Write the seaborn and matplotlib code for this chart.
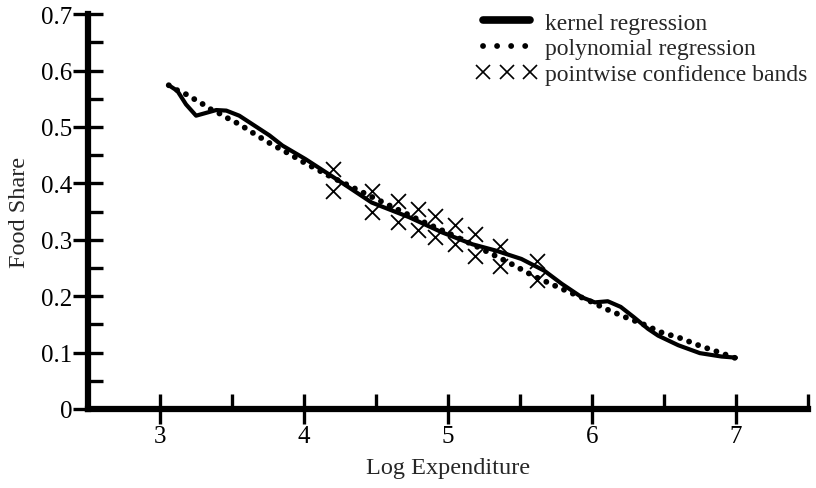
import numpy as np
import pandas as pd
import matplotlib
matplotlib.use("Agg")
import matplotlib.pyplot as plt
from matplotlib.lines import Line2D
from matplotlib.ticker import MultipleLocator
import seaborn as sns

# Kernel regression estimate of food share on log expenditure
kernel_x = [3.06, 3.12, 3.18, 3.25, 3.32, 3.39, 3.46, 3.55, 3.64, 3.76, 3.85,
            4.01, 4.24, 4.47, 4.73, 4.96, 5.17, 5.33, 5.51, 5.67, 5.79, 5.93,
            6.02, 6.11, 6.20, 6.29, 6.39, 6.46, 6.60, 6.75, 6.90, 7.00]
kernel_y = [0.574, 0.564, 0.540, 0.520, 0.525, 0.530, 0.529, 0.520, 0.505, 0.485, 0.467,
            0.443, 0.405, 0.366, 0.340, 0.313, 0.292, 0.281, 0.266, 0.245, 0.222, 0.198,
            0.189, 0.191, 0.181, 0.163, 0.142, 0.130, 0.113, 0.099, 0.093, 0.091]

# Polynomial regression fit
poly_x = [3.06, 3.12, 3.18, 3.24, 3.30, 3.36, 3.42, 3.48, 3.55, 3.66, 3.77, 3.90,
          4.00, 4.20, 4.40, 4.60, 4.80, 5.00, 5.20, 5.42, 5.60, 5.80, 5.98, 6.10,
          6.23, 6.35, 6.48, 6.61, 6.75, 6.90, 7.00]
poly_y = [0.574, 0.565, 0.558, 0.549, 0.540, 0.530, 0.523, 0.514, 0.505, 0.487, 0.470, 0.452,
          0.437, 0.410, 0.385, 0.360, 0.335, 0.312, 0.288, 0.260, 0.235, 0.212, 0.192, 0.177,
          0.163, 0.151, 0.136, 0.126, 0.112, 0.099, 0.090]

# Pointwise confidence bands (upper and lower limits)
band_x = [4.20, 4.47, 4.65, 4.79, 4.91, 5.05, 5.19, 5.36, 5.62]
band_upper = [0.425, 0.387, 0.369, 0.354, 0.342, 0.326, 0.310, 0.289, 0.263]
band_lower = [0.387, 0.349, 0.331, 0.318, 0.305, 0.292, 0.272, 0.254, 0.228]

legend_labels = ["kernel regression", "polynomial regression", "pointwise confidence bands"]

kernel_df = pd.DataFrame({"x": kernel_x, "y": kernel_y})
poly_df = pd.DataFrame({"x": poly_x, "y": poly_y})
band_df = pd.DataFrame({"x": band_x + band_x, "y": band_upper + band_lower})

sns.set_theme(style="ticks")
plt.rcParams["font.family"] = ["Liberation Serif", "DejaVu Serif"]

fig = plt.figure(figsize=(8.16, 4.89), dpi=100)
ax = fig.add_axes([0.108, 0.1616, 0.882, 0.8074])

sns.lineplot(data=kernel_df, x="x", y="y", ax=ax, color="black", lw=3.0,
             sort=False, estimator=None, solid_capstyle="round")
sns.lineplot(data=poly_df, x="x", y="y", ax=ax, color="black", lw=4.2,
             sort=False, estimator=None, linestyle=(0, (0.01, 1.65)),
             dash_capstyle="round")
sns.scatterplot(data=band_df, x="x", y="y", ax=ax, marker="x", color="black",
                s=115, linewidth=1.3)

ax.set_xlim(2.5, 7.5)
ax.set_ylim(0, 0.7)
ax.xaxis.set_minor_locator(MultipleLocator(0.5))
ax.yaxis.set_minor_locator(MultipleLocator(0.05))
ax.set_xticks([3, 4, 5, 6, 7])
ax.set_xticklabels(["3", "4", "5", "6", "7"])
ax.set_yticks([0, 0.1, 0.2, 0.3, 0.4, 0.5, 0.6, 0.7])
ax.set_yticklabels(["0", "0.1", "0.2", "0.3", "0.4", "0.5", "0.6", "0.7"])

for side in ("top", "right"):
    ax.spines[side].set_visible(False)
for side in ("left", "bottom"):
    ax.spines[side].set_linewidth(4.5)
    ax.spines[side].set_color("black")

ax.tick_params(which="major", direction="inout", length=21, width=2.4,
               color="black", labelsize=18, labelcolor="black", pad=1)
ax.tick_params(which="minor", direction="in", length=11, width=2.4, color="black")

ax.set_xlabel("Log Expenditure", fontsize=17.5, labelpad=7)
ax.set_ylabel("Food Share", fontsize=17.5, labelpad=8)

handles = [
    Line2D([0], [0], color="black", lw=5.5),
    Line2D([0], [0], color="black", lw=4.2, linestyle=(0, (0.01, 2.4)), dash_capstyle="round"),
    Line2D([0], [0], color="black", lw=0, marker="x", markersize=10, markeredgewidth=1.2),
]
ax.legend(handles, legend_labels, loc="upper right", bbox_to_anchor=(1.0, 1.005),
          frameon=False, fontsize=17, numpoints=3, handlelength=2.6,
          handletextpad=0.35, labelspacing=0.18, borderaxespad=0.0, borderpad=0.0)

fig.savefig("out.png", dpi=100)
